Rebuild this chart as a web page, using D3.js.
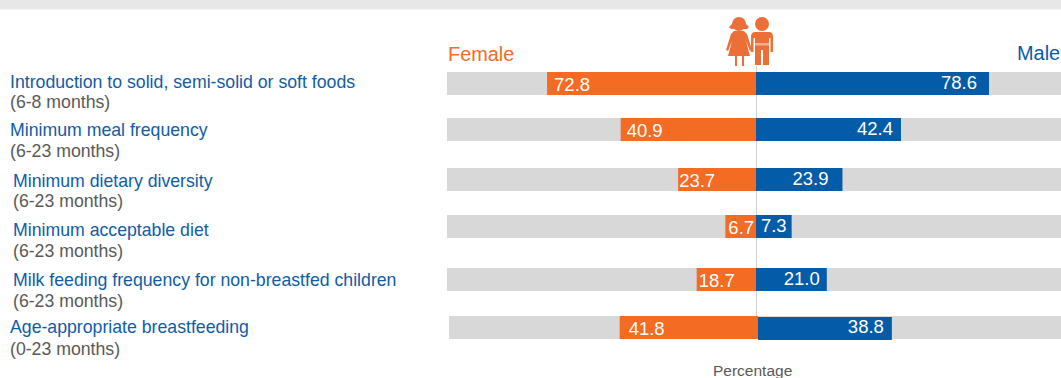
<!DOCTYPE html>
<html><head><meta charset="utf-8">
<script src="https://cdn.jsdelivr.net/npm/d3@7/dist/d3.min.js"></script>
<style>html,body{margin:0;padding:0;background:#fff;overflow:hidden}svg{display:block}text{font-family:"Liberation Sans",Arial,sans-serif}</style>
</head><body><svg id="c" width="1061" height="378"></svg>
<script>
const categories=["Introduction to solid, semi-solid or soft foods","Minimum meal frequency","Minimum dietary diversity","Minimum acceptable diet","Milk feeding frequency for non-breastfed children","Age-appropriate breastfeeding"];
const ageRanges=["(6-8 months)","(6-23 months)","(6-23 months)","(6-23 months)","(6-23 months)","(0-23 months)"];
const femaleValues=[72.8,40.9,23.7,6.7,18.7,41.8];
const maleValues=[78.6,42.4,23.9,7.3,21.0,38.8];

const W=1061,H=378,BAR_H=23,ORANGE="#f46b23",BLUE="#045ca9",GRAY="#d8d8d8";
const svg=d3.select("#c");
svg.append("rect").attr("width",W).attr("height",9.5).attr("fill","#e7e7e7");

// the reference's bars are hand-drawn infographic shapes, not strictly proportional
const knots=[0,7,19,24,42,79];
const fX=d3.scaleLinear().domain(knots).range([0,32,60,79,139,223]);
const mX=d3.scaleLinear().domain(knots).range([0,35,60,87,144,234]);
const y=d3.scaleOrdinal().domain(categories).range([72,118,168,215,268,316]);
const titleY=d3.scaleOrdinal().domain(categories).range([88,136,187,236,286,333]);
const ageY=d3.scaleOrdinal().domain(categories).range([108,157,207,257,307,355]);
const cx=d3.scaleOrdinal().domain(categories).range([756,756,756,756,756,758]);
const labelX=d3.scaleOrdinal().domain(categories).range([10,10,13,13,13,10]);
const fNudge=[7,6,1,3,2,9], mNudge=[12,8,14,5,7,8];

svg.append("line").attr("x1",756.5).attr("x2",756.5).attr("y1",66).attr("y2",316).attr("stroke","#d0d0d0");

const rows=svg.selectAll("g.row").data(categories).join("g").attr("class","row");
rows.append("rect").attr("x",d=>cx(d)-309).attr("y",d=>y(d)).attr("width",d=>W-cx(d)+309).attr("height",BAR_H).attr("fill",GRAY);
rows.append("rect").attr("x",(d,i)=>cx(d)-fX(femaleValues[i])).attr("y",d=>y(d)).attr("width",(d,i)=>fX(femaleValues[i])).attr("height",BAR_H).attr("fill",ORANGE);
rows.append("rect").attr("x",d=>cx(d)).attr("y",(d,i)=>y(d)+(i==5?1:0)).attr("width",(d,i)=>mX(maleValues[i])).attr("height",BAR_H).attr("fill",BLUE);
rows.append("text").attr("x",(d,i)=>cx(d)-fX(femaleValues[i])+fNudge[i]).attr("y",d=>y(d)+19).attr("fill","#fff").attr("font-size",18.5).text((d,i)=>femaleValues[i].toFixed(1));
rows.append("text").attr("x",(d,i)=>cx(d)+mX(maleValues[i])-mNudge[i]).attr("y",d=>y(d)+17).attr("text-anchor","end").attr("fill","#fff").attr("font-size",18.5).text((d,i)=>maleValues[i].toFixed(1));
rows.append("text").attr("x",d=>labelX(d)).attr("y",d=>titleY(d)).attr("fill","#0f5ca8").attr("font-size",17.7).text(d=>d);
rows.append("text").attr("x",d=>labelX(d)).attr("y",d=>ageY(d)).attr("fill","#595959").attr("font-size",17.7).text((d,i)=>ageRanges[i]);

svg.append("text").attr("x",448).attr("y",60.5).attr("fill",ORANGE).attr("font-size",19.9).text("Female");
svg.append("text").attr("x",1017).attr("y",59.5).attr("fill",BLUE).attr("font-size",19.9).text("Male");
svg.append("text").attr("x",713).attr("y",376).attr("fill","#595959").attr("font-size",15.5).text("Percentage");

const ic=svg.append("g").attr("fill","#ec6f38");
ic.append("circle").attr("cx",739).attr("cy",24).attr("r",7);
ic.append("path").attr("d","M729 27Q739 15 749 27L747 29H731Z");
ic.append("path").attr("d","M734 31H744L747 34L752 50L750 51L746 41L750 56H744V66H742V56H737V66H735V56H728L732 41L728 51L726 50L731 34Z");
ic.append("circle").attr("cx",762).attr("cy",24).attr("r",7);
ic.append("path").attr("d","M755 32H769Q773 32 773 37V52H770.5V38H769V65H763V50H761V65H755V38H753.5V52H751V37Q751 32 755 32Z");
ic.append("rect").attr("x",755).attr("y",43).attr("width",14).attr("height",2.5).attr("fill","#f3b28f");
</script></body></html>
